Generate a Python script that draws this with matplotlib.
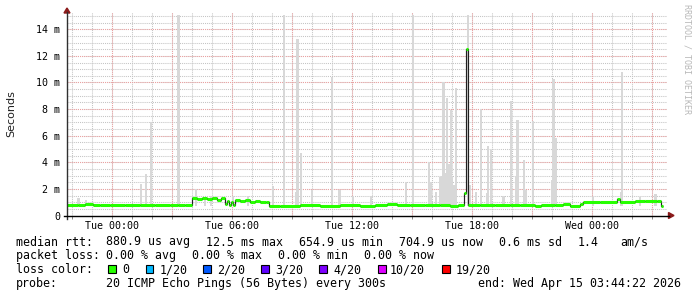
import matplotlib
matplotlib.use("Agg")
import matplotlib.pyplot as plt
from matplotlib.patches import Rectangle, Polygon
from matplotlib.lines import Line2D

# ---------------- data (hours relative to Tue 00:00, values in ms) ----------------
x_start, x_end = -2.25, 27.75
tick_hours = [0, 6, 12, 18, 24]
tick_labels = ["Tue 00:00", "Tue 06:00", "Tue 12:00", "Tue 18:00", "Wed 00:00"]
y_ticks = [0, 2, 4, 6, 8, 10, 12, 14]
y_tick_labels = ["0", "2 m", "4 m", "6 m", "8 m", "10 m", "12 m", "14 m"]

median_t = [-2.25, -1.7, -1.35, -0.95, -0.6, -0.1, 0.65, 1.4, 2.15, 2.9, 3.3, 3.65,
            4.0, 4.25, 4.5, 4.75, 5.0, 5.25, 5.45, 5.65, 5.75, 5.85, 5.95, 6.05, 6.15,
            6.4, 6.65, 6.9, 7.15, 7.4, 7.7, 7.83, 8.4, 9.4, 10.4, 11.4, 12.4, 13.15,
            13.75, 14.25, 14.9, 15.65, 16.4, 16.9, 17.3, 17.615, 17.715, 17.795, 18.4,
            19.15, 19.9, 20.4, 21.15, 21.45, 22.15, 22.55, 22.9, 23.4, 23.55, 24.4,
            25.25, 25.375, 26.15, 26.65, 27.25, 27.425]
median_v = [0.78, 0.82, 0.9, 0.8, 0.76, 0.8, 0.78, 0.8, 0.77, 0.8, 0.76, 0.79,
            1.32, 1.25, 1.35, 1.25, 1.3, 1.2, 1.28, 0.85, 1.1, 0.8, 1.05, 0.82, 1.2,
            1.1, 1.15, 1.05, 1.1, 1.0, 1.05, 0.75, 0.74, 0.77, 0.74, 0.76, 0.74, 0.78,
            0.85, 0.77, 0.8, 0.82, 0.78, 0.75, 0.8, 1.67, 12.5, 0.8, 0.78,
            0.82, 0.76, 0.8, 0.72, 0.8, 0.76, 0.84, 0.72, 0.88, 1.04, 1.02,
            1.22, 1.04, 1.08, 1.12, 1.08, 0.72]
median_end = 27.525

smoke_t = [-1.675, -1.315, 1.435, 1.69, 1.935, 3.315, 4.19, 4.65, 4.935, 6.05, 6.8,
           8.065, 8.6, 9.2, 9.265, 9.435, 10.01, 10.985, 11.365, 12.065, 12.95, 14.69,
           15.065, 15.85, 15.96, 16.185, 16.4, 16.5, 16.58, 16.65, 16.75, 16.85, 16.94,
           17.0, 17.1, 17.2, 17.8, 17.885, 18.19, 18.44, 18.735, 18.79, 18.94, 19.575,
           19.95, 20.2, 20.275, 20.59, 20.685, 21.05, 22.025, 22.065, 22.165, 24.05,
           25.45, 25.51, 26.4, 27.175]
smoke_top = [1.32, 1.17, 2.4, 3.15, 7.0, 15.1, 2.0, 1.4, 1.5, 1.5, 1.5,
             2.2, 15.1, 1.8, 13.25, 4.7, 1.95, 10.4, 1.9, 1.5, 1.5, 2.5,
             15.1, 4.0, 2.5, 1.8, 2.9, 3.0, 10.0, 3.2, 8.8, 3.9, 7.9,
             3.0, 2.3, 9.6, 15.1, 2.3, 1.8, 8.0, 1.7, 5.25, 4.95, 1.5,
             8.6, 3.0, 7.2, 4.2, 1.9, 7.1, 2.7, 10.3, 5.8, 1.4,
             1.8, 10.8, 1.4, 1.6]
smoke_base = 0.7

loss_labels = ["0", "1/20", "2/20", "3/20", "4/20", "10/20", "19/20"]
loss_colors = ["#26ff00", "#00b8ff", "#0059ff", "#5e00ff", "#7e00ff", "#dd00ff", "#ff0000"]

# ---------------- figure ----------------
W, H = 697, 297
fig = plt.figure(figsize=(W / 100, H / 100), dpi=100)
fig.patch.set_facecolor("white")


def fx(px):
    return px / W


def fy(py):
    return 1 - py / H


ax = fig.add_axes([fx(67), fy(215.5), 600 / W, (215.5 - 12) / H])
ax.set_facecolor("white")
ax.set_xlim(x_start, x_end)
ax.set_ylim(0, 15.3)
for s in ax.spines.values():
    s.set_visible(False)

dot = (0, (1, 1))
# minor grid
h = -2
while h <= 27:
    ax.axvline(h, color="#c4c4c4", lw=0.75, ls=dot, zorder=0)
    h += 1
v = 0.5
while v <= 15.01:
    ax.axhline(v, color="#c4c4c4", lw=0.75, ls=dot, zorder=0)
    v += 0.5
# major grid
for h in range(0, 28, 3):
    ax.axvline(h, color="#eca0a0", lw=0.75, ls=dot, zorder=0.5)
for v in range(2, 15, 2):
    ax.axhline(v, color="#eca0a0", lw=0.75, ls=dot, zorder=0.5)

# smoke
ax.bar(smoke_t, [t - smoke_base for t in smoke_top], bottom=smoke_base, width=0.12,
       color="#d8d8d8", linewidth=0, zorder=1)

# median
edges = median_t + [median_end]
ax.stairs(median_v, edges, baseline=None, color="#202020", lw=0.85, zorder=2)
ax.hlines(median_v, median_t, edges[1:], color="#26ff00", lw=2.2, zorder=3)

# ticks
ax.set_xticks(tick_hours)
ax.set_xticklabels(tick_labels, family="DejaVu Sans Mono", fontsize=7.2)
ax.set_xticks(list(range(-2, 28)), minor=True)
ax.tick_params(axis="x", which="both", length=2.5, width=0.7, color="#888888",
               direction="out", pad=1.5)
ax.set_yticks(y_ticks)
ax.set_yticklabels(y_tick_labels, family="DejaVu Sans Mono", fontsize=7.2)
ax.tick_params(axis="y", which="both", length=0, pad=5)

# axis lines and arrows
fig.add_artist(Line2D([fx(67), fx(67)], [fy(218.5), fy(12)], color="#303030", lw=1.0))
fig.add_artist(Line2D([fx(64), fx(669)], [fy(215.5), fy(215.5)], color="#000000", lw=1.0))
fig.add_artist(Polygon([[fx(67), fy(8)], [fx(64), fy(13)], [fx(70), fy(13)]],
                       closed=True, color="#8b1a1a", transform=fig.transFigure))
fig.add_artist(Polygon([[fx(674), fy(215.5)], [fx(668.5), fy(212.5)], [fx(668.5), fy(218.5)]],
                       closed=True, color="#8b1a1a", transform=fig.transFigure))

# labels
fig.text(fx(11), fy(113.3), "Seconds", rotation=90, ha="center", va="center",
         fontsize=8, family="DejaVu Sans", color="#202020")
fig.text(fx(687.5), fy(4.5), "RRDTOOL / TOBI OETIKER", rotation=270, ha="center", va="top",
         fontsize=6, family="DejaVu Sans Mono", color="#b8b8b8")

mono = dict(family="DejaVu Sans Mono", fontsize=8.4, color="black", va="baseline", ha="left")
line1 = [(16, "median rtt:"), (106.3, "880.9 us avg"), (206, "12.5 ms max"),
         (299, "654.9 us min"), (399, "704.9 us now"), (499, "0.6 ms sd"),
         (578, "1.4"), (620.2, "am/s")]
for px, s in line1:
    fig.text(fx(px), fy(245.5), s, **mono)
line2 = [(16, "packet loss:"), (106.3, "0.00 % avg"), (192.3, "0.00 % max"),
         (278.3, "0.00 % min"), (364, "0.00 % now")]
for px, s in line2:
    fig.text(fx(px), fy(259.3), s, **mono)
fig.text(fx(16), fy(273.3), "loss color:", **mono)
box_x = [108, 145.7, 203, 261, 319.3, 378.3, 442.3]
lab_x = [122.3, 159.5, 217, 275, 333, 389.5, 455.5]
for bx, lx, lab, col in zip(box_x, lab_x, loss_labels, loss_colors):
    fig.add_artist(Rectangle((fx(bx), fy(273)), 7.5 / W, 8 / H, facecolor=col,
                             edgecolor="black", lw=0.8, transform=fig.transFigure))
    fig.text(fx(lx), fy(273.3), lab, **mono)
fig.text(fx(16), fy(287), "probe:", **mono)
fig.text(fx(106.3), fy(287), "20 ICMP Echo Pings (56 Bytes) every 300s", **mono)
fig.text(fx(477.5), fy(287), "end: Wed Apr 15 03:44:22 2026", **mono)

fig.savefig("out.png", dpi=100, facecolor="white")
